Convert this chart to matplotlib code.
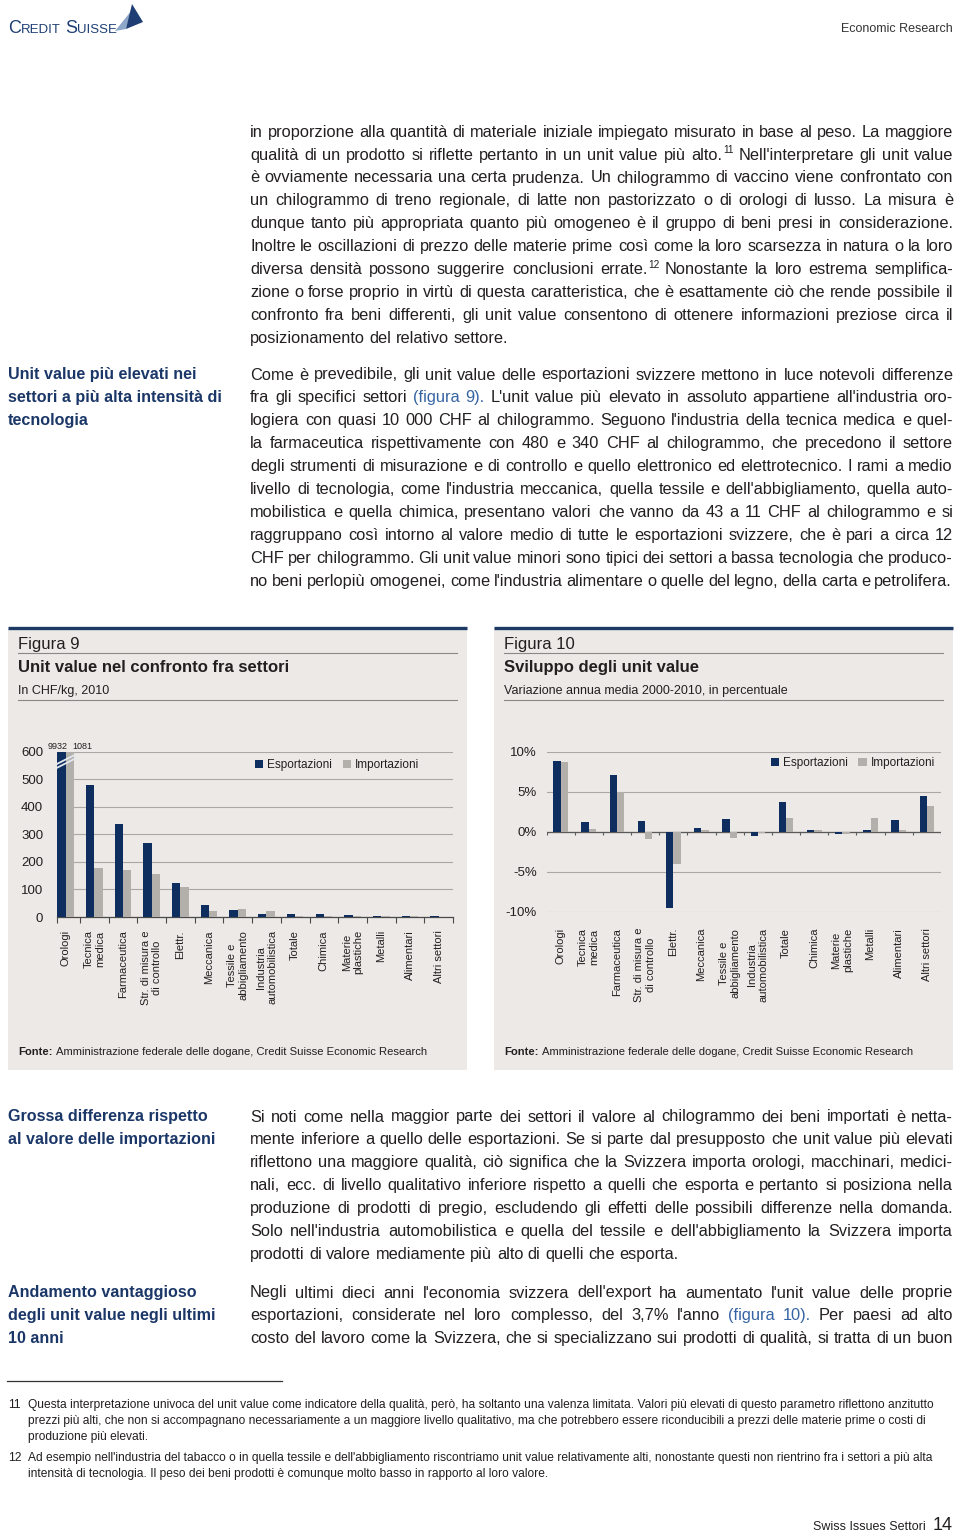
import numpy as np
import matplotlib
matplotlib.use('Agg')
import matplotlib.pyplot as plt
from matplotlib.patches import Rectangle, Polygon
from matplotlib.lines import Line2D

plt.rcParams['font.family'] = ['Liberation Sans', 'DejaVu Sans']

W, H = 960, 1534
NAVY = '#0d2e5e'
GREY = '#b3afab'
PANEL = '#ece9e6'
INK = '#231f20'
HEAD = '#1b3768'
LINK = '#3564a3'
GRID = '#aaa7a4'

# ---- chart data ----
sectors = ['Orologi', 'Tecnica\nmedica', 'Farmaceutica', 'Str. di misura e\ndi controllo',
           'Elettr.', 'Meccanica', 'Tessile e\nabbigliamento', 'Industria\nautomobilistica',
           'Totale', 'Chimica', 'Materie\nplastiche', 'Metalli', 'Alimentari', 'Altri settori']
series = ['Esportazioni', 'Importazioni']
uv_export = [9932, 480, 338, 269, 125, 43, 27, 12, 12, 11, 6, 3, 3, 3]
uv_import = [1081, 178, 170, 156, 109, 20, 30, 22, 3, 2, 5, 2, 2, 1]
uv_ticks = [0, 100, 200, 300, 400, 500, 600]
gr_export = [8.9, 1.2, 7.1, 1.4, -9.5, 0.45, 1.6, -0.55, 3.7, 0.3, -0.3, 0.2, 1.5, 4.55]
gr_import = [8.7, 0.4, 5.0, -0.85, -4.0, 0.3, -0.7, -0.1, 1.7, 0.3, -0.25, 1.8, 0.2, 3.25]
gr_ticks = [-10, -5, 0, 5, 10]

# ---- page text (~ = link colour, ^ = superscript) ----
para1 = [
    "in proporzione alla quantità di materiale iniziale impiegato misurato in base al peso. La maggiore",
    "qualità di un prodotto si riflette pertanto in un unit value più alto.^11 Nell'interpretare gli unit value",
    "è ovviamente necessaria una certa prudenza. Un chilogrammo di vaccino viene confrontato con",
    "un chilogrammo di treno regionale, di latte non pastorizzato o di orologi di lusso. La misura è",
    "dunque tanto più appropriata quanto più omogeneo è il gruppo di beni presi in considerazione.",
    "Inoltre le oscillazioni di prezzo delle materie prime così come la loro scarsezza in natura o la loro",
    "diversa densità possono suggerire conclusioni errate.^12 Nonostante la loro estrema semplifica-",
    "zione o forse proprio in virtù di questa caratteristica, che è esattamente ciò che rende possibile il",
    "confronto fra beni differenti, gli unit value consentono di ottenere informazioni preziose circa il",
    "posizionamento del relativo settore.",
]
para2 = [
    "Come è prevedibile, gli unit value delle esportazioni svizzere mettono in luce notevoli differenze",
    "fra gli specifici settori ~(figura ~9). L'unit value più elevato in assoluto appartiene all'industria oro-",
    "logiera con quasi 10 000 CHF al chilogrammo. Seguono l'industria della tecnica medica e quel-",
    "la farmaceutica rispettivamente con 480 e 340 CHF al chilogrammo, che precedono il settore",
    "degli strumenti di misurazione e di controllo e quello elettronico ed elettrotecnico. I rami a medio",
    "livello di tecnologia, come l'industria meccanica, quella tessile e dell'abbigliamento, quella auto-",
    "mobilistica e quella chimica, presentano valori che vanno da 43 a 11 CHF al chilogrammo e si",
    "raggruppano così intorno al valore medio di tutte le esportazioni svizzere, che è pari a circa 12",
    "CHF per chilogrammo. Gli unit value minori sono tipici dei settori a bassa tecnologia che produco-",
    "no beni perlopiù omogenei, come l'industria alimentare o quelle del legno, della carta e petrolifera.",
]
para3 = [
    "Si noti come nella maggior parte dei settori il valore al chilogrammo dei beni importati è netta-",
    "mente inferiore a quello delle esportazioni. Se si parte dal presupposto che unit value più elevati",
    "riflettono una maggiore qualità, ciò significa che la Svizzera importa orologi, macchinari, medici-",
    "nali, ecc. di livello qualitativo inferiore rispetto a quelli che esporta e pertanto si posiziona nella",
    "produzione di prodotti di pregio, escludendo gli effetti delle possibili differenze nella domanda.",
    "Solo nell'industria automobilistica e quella del tessile e dell'abbigliamento la Svizzera importa",
    "prodotti di valore mediamente più alto di quelli che esporta.",
]
para4 = [
    "Negli ultimi dieci anni l'economia svizzera dell'export ha aumentato l'unit value delle proprie",
    "esportazioni, considerate nel loro complesso, del 3,7% l'anno ~(figura ~10). Per paesi ad alto",
    "costo del lavoro come la Svizzera, che si specializzano sui prodotti di qualità, si tratta di un buon",
]
side1 = ["Unit value più elevati nei", "settori a più alta intensità di", "tecnologia"]
side2 = ["Grossa differenza rispetto", "al valore delle importazioni"]
side3 = ["Andamento vantaggioso", "degli unit value negli ultimi", "10 anni"]
fn11 = ["Questa interpretazione univoca del unit value come indicatore della qualità, però, ha soltanto una valenza limitata. Valori più elevati di questo parametro riflettono anzitutto",
        "prezzi più alti, che non si accompagnano necessariamente a un maggiore livello qualitativo, ma che potrebbero essere riconducibili a prezzi delle materie prime o costi di",
        "produzione più elevati."]
fn12 = ["Ad esempio nell'industria del tabacco o in quella tessile e dell'abbigliamento riscontriamo unit value relativamente alti, nonostante questi non rientrino fra i settori a più alta",
        "intensità di tecnologia. Il peso dei beni prodotti è comunque molto basso in rapporto al loro valore."]
source = "Amministrazione federale delle dogane, Credit Suisse Economic Research"

fig = plt.figure(figsize=(W / 100, H / 100), dpi=100)
fig.patch.set_facecolor('white')
renderer = fig.canvas.get_renderer()


def fx(x):
    return x / W


def fy(y):
    return 1 - y / H


def put(x, y, s, **kw):
    kw.setdefault('va', 'baseline')
    kw.setdefault('ha', 'left')
    return fig.text(fx(x), fy(y), s, **kw)


def width(t):
    return t.get_window_extent(renderer).width


def clean(s):
    return s.replace('~', '').replace('^', '')


def space_width(size, weight='normal'):
    a = fig.text(0, 0, 'n n', fontsize=size, fontweight=weight)
    b = fig.text(0, 0, 'nn', fontsize=size, fontweight=weight)
    w = width(a) - width(b)
    a.remove()
    b.remove()
    return w


def fit_size(lines, avail, weight='normal', test=12, squeeze=0.0):
    # largest font size where every line fits, letting spaces shrink by `squeeze`
    t = fig.text(0, 0, '', fontsize=test, fontweight=weight)
    sp = space_width(test, weight)
    m = 0
    for ln in lines:
        s = clean(ln)
        t.set_text(s)
        m = max(m, width(t) - squeeze * sp * s.count(' '))
    t.remove()
    return test * avail / m


def draw_words(line, x0, y, size, color=INK, weight='normal', x1=None, xmax=None):
    rows, totals = [], []
    for w in line.split(' '):
        c = color
        if w.startswith('~'):
            w, c = w[1:], LINK
        parts = [(w, 0, size)]
        if '^' in w:
            base, sup = w.split('^')
            parts = [(base, 0, size), (sup, -size * 0.55, size * 0.62)]
        row, tot = [], 0
        for s, dy, sz in parts:
            t = put(x0, y + dy, s, fontsize=sz, color=c, fontweight=weight)
            wd = width(t)
            row.append((t, wd))
            tot += wd
        rows.append(row)
        totals.append(tot)
    gap = space_width(size, weight)
    n = len(rows) - 1
    if x1 is not None and n > 0:
        gap = (x1 - x0 - sum(totals)) / n
    elif xmax is not None and n > 0:
        gap = min(gap, (xmax - x0 - sum(totals)) / n)
    x = x0
    for row, tot in zip(rows, totals):
        xx = x
        for t, wd in row:
            t.set_x(fx(xx))
            xx += wd + 0.6
        x += tot + gap


LEAD = 22.9
body_size = min(12.5, fit_size(para1 + para2 + para3 + para4, 703, squeeze=0.15))
side_size = fit_size(["settori a più alta intensità di"], 212, weight='bold')


def paragraph(lines, y0, justify_last=False):
    for i, ln in enumerate(lines):
        last = i == len(lines) - 1
        draw_words(ln, 250, y0 + i * LEAD, body_size,
                   x1=None if (last and not justify_last) else 953, xmax=952)


def sidebar(lines, y0):
    for i, ln in enumerate(lines):
        put(8, y0 + i * LEAD, ln, fontsize=side_size, fontweight='bold', color=HEAD)


paragraph(para1, 136.7)
paragraph(para2, 379.5)
sidebar(side1, 379.5)
paragraph(para3, 1121.5)
sidebar(side2, 1121.5)
paragraph(para4, 1297.5, justify_last=True)
sidebar(side3, 1297.5)

# ---- header ----
x = 8
for s, sz in [('C', 13), ('REDIT', 9.5), (' ', 9.5), ('S', 13), ('UISSE', 9.5)]:
    t = put(x, 33, s, fontsize=sz, color='#1f3f74')
    x += width(t) + 0.5 if s != ' ' else 3
fig.add_artist(Polygon([(fx(115), fy(31)), (fx(132), fy(10)), (fx(126), fy(29))],
                       closed=True, transform=fig.transFigure, facecolor='#8ea6c8', edgecolor='none'))
fig.add_artist(Polygon([(fx(126), fy(29)), (fx(132), fy(4)), (fx(143), fy(22))],
                       closed=True, transform=fig.transFigure, facecolor='#1f3f74', edgecolor='none'))
put(953, 32, 'Economic Research', fontsize=9, color='#333333', ha='right')

# ---- figure panels ----
panels = [(8, 'Figura 9', 'Unit value nel confronto fra settori', 'In CHF/kg, 2010'),
          (494, 'Figura 10', 'Sviluppo degli unit value', 'Variazione annua media 2000-2010, in percentuale')]
src_size = fit_size(['Fonte: ' + source], 407)
for left, num, title, sub in panels:
    fig.add_artist(Rectangle((fx(left), fy(1070)), 459 / W, (1070 - 628) / H, transform=fig.transFigure,
                             facecolor=PANEL, edgecolor='none', zorder=-2))
    fig.add_artist(Line2D([fx(left), fx(left + 459)], [fy(628.5)] * 2, color='#1c3a63', lw=2.4,
                          solid_capstyle='butt'))
    for yl in (653.5, 699.5):
        fig.add_artist(Line2D([fx(left + 10), fx(left + 449)], [fy(yl)] * 2, color='#8a8786', lw=0.8))
    put(left + 10, 648.5, num, fontsize=12, color=INK)
    put(left + 10, 672, title, fontsize=12, fontweight='bold', color=INK)
    put(left + 10, 694, sub, fontsize=9, color=INK)
    t = put(left + 10, 1055, 'Fonte:', fontsize=src_size, fontweight='bold', color=INK)
    put(left + 10 + width(t) + 3, 1055, source, fontsize=src_size, color=INK)

x_idx = np.arange(len(sectors))

# ---- Figura 9 ----
ax1 = fig.add_axes([fx(57), fy(917), 396 / W, 165.3 / H])
ax1.patch.set_alpha(0)
bw = 0.29
ax1.bar(x_idx - bw / 2, uv_export, bw, color=NAVY, label=series[0], zorder=3)
ax1.bar(x_idx + bw / 2, uv_import, bw, color=GREY, label=series[1], zorder=3)
ax1.set_xlim(-0.3, 13.5)
ax1.set_ylim(uv_ticks[0], uv_ticks[-1])
ax1.set_yticks(uv_ticks)
ax1.yaxis.grid(True, color=GRID, lw=0.8)
ax1.set_axisbelow(True)
for side in ['top', 'left', 'right']:
    ax1.spines[side].set_visible(False)
ax1.spines['bottom'].set_color('#4a4a4a')
ax1.spines['bottom'].set_linewidth(0.9)
ax1.tick_params(axis='y', length=0, pad=10, labelsize=9.5, labelcolor=INK)
ax1.set_xticks(x_idx, sectors, rotation=90)
ax1.set_xticks(list(np.arange(0.5, 13.6, 1.0)) + [-0.3], minor=True)
ax1.tick_params(axis='x', which='major', length=0, pad=9.5, labelsize=8, labelcolor=INK)
ax1.tick_params(axis='x', which='minor', length=4, color='#4a4a4a', width=0.8)
for lab in ax1.get_xticklabels():
    lab.set_multialignment('center')
# break marks on the clipped bars
for off in (0, 14):
    ax1.plot([-0.33, 0.33], [540 + off, 575 + off], color='#e3e8ef', lw=1.3, zorder=4)
ax1.text(x_idx[0] + 0.08, uv_ticks[-1] + 4, f'{uv_export[0]}', fontsize=6.5, ha='right', va='bottom',
         color=INK, clip_on=False)
ax1.text(x_idx[0] + 0.23, uv_ticks[-1] + 4, f'{uv_import[0]}', fontsize=6.5, ha='left',
         va='bottom', color=INK, clip_on=False)
ax1.legend(loc='center right', bbox_to_anchor=(0.915, 0.92), ncol=2, frameon=False, fontsize=8.5,
           handlelength=0.7, handleheight=0.7, handletextpad=0.35, columnspacing=0.9,
           borderpad=0, borderaxespad=0, labelcolor=INK)

# ---- Figura 10 ----
ax2 = fig.add_axes([fx(546.5), fy(912), 394.5 / W, 160 / H])
ax2.patch.set_alpha(0)
bw = 0.26
ax2.bar(x_idx - bw / 2, gr_export, bw, color=NAVY, label=series[0], zorder=3)
ax2.bar(x_idx + bw / 2, gr_import, bw, color=GREY, label=series[1], zorder=3)
ax2.set_xlim(-0.5, 13.5)
ax2.set_ylim(gr_ticks[0], gr_ticks[-1])
ax2.set_yticks(gr_ticks, [f'{v}%' for v in gr_ticks])
ax2.yaxis.grid(True, color=GRID, lw=0.8)
ax2.set_axisbelow(True)
for side in ax2.spines:
    ax2.spines[side].set_visible(False)
ax2.axhline(0, color='#5a5a5a', lw=0.9, zorder=2)
ax2.vlines(np.arange(-0.5, 13.6, 1.0), -0.4, 0, color='#5a5a5a', lw=0.8, zorder=2)
ax2.tick_params(axis='y', length=0, pad=7, labelsize=9.5, labelcolor=INK)
ax2.set_xticks(x_idx, sectors, rotation=90)
ax2.tick_params(axis='x', length=0, pad=11.5, labelsize=8, labelcolor=INK)
for lab in ax2.get_xticklabels():
    lab.set_multialignment('center')
ax2.legend(loc='center right', bbox_to_anchor=(0.985, 0.93), ncol=2, frameon=False, fontsize=8.5,
           handlelength=0.7, handleheight=0.7, handletextpad=0.35, columnspacing=0.9,
           borderpad=0, borderaxespad=0, labelcolor=INK)

# ---- footnotes ----
fig.add_artist(Line2D([fx(7), fx(282)], [fy(1380.5)] * 2, color='#333333', lw=0.9))
fn_size = fit_size([fn11[0]], 907)
for num, lines, y0 in [('11', fn11, 1408), ('12', fn12, 1461)]:
    put(8, y0, num, fontsize=fn_size, color=INK)
    for i, ln in enumerate(lines):
        put(28, y0 + i * 16, ln, fontsize=fn_size, color=INK)

# ---- footer ----
put(926, 1530, 'Swiss Issues Settori', fontsize=9, color=INK, ha='right')
put(953, 1530, '14', fontsize=13, color=INK, ha='right')

fig.savefig('out.png', dpi=100)
